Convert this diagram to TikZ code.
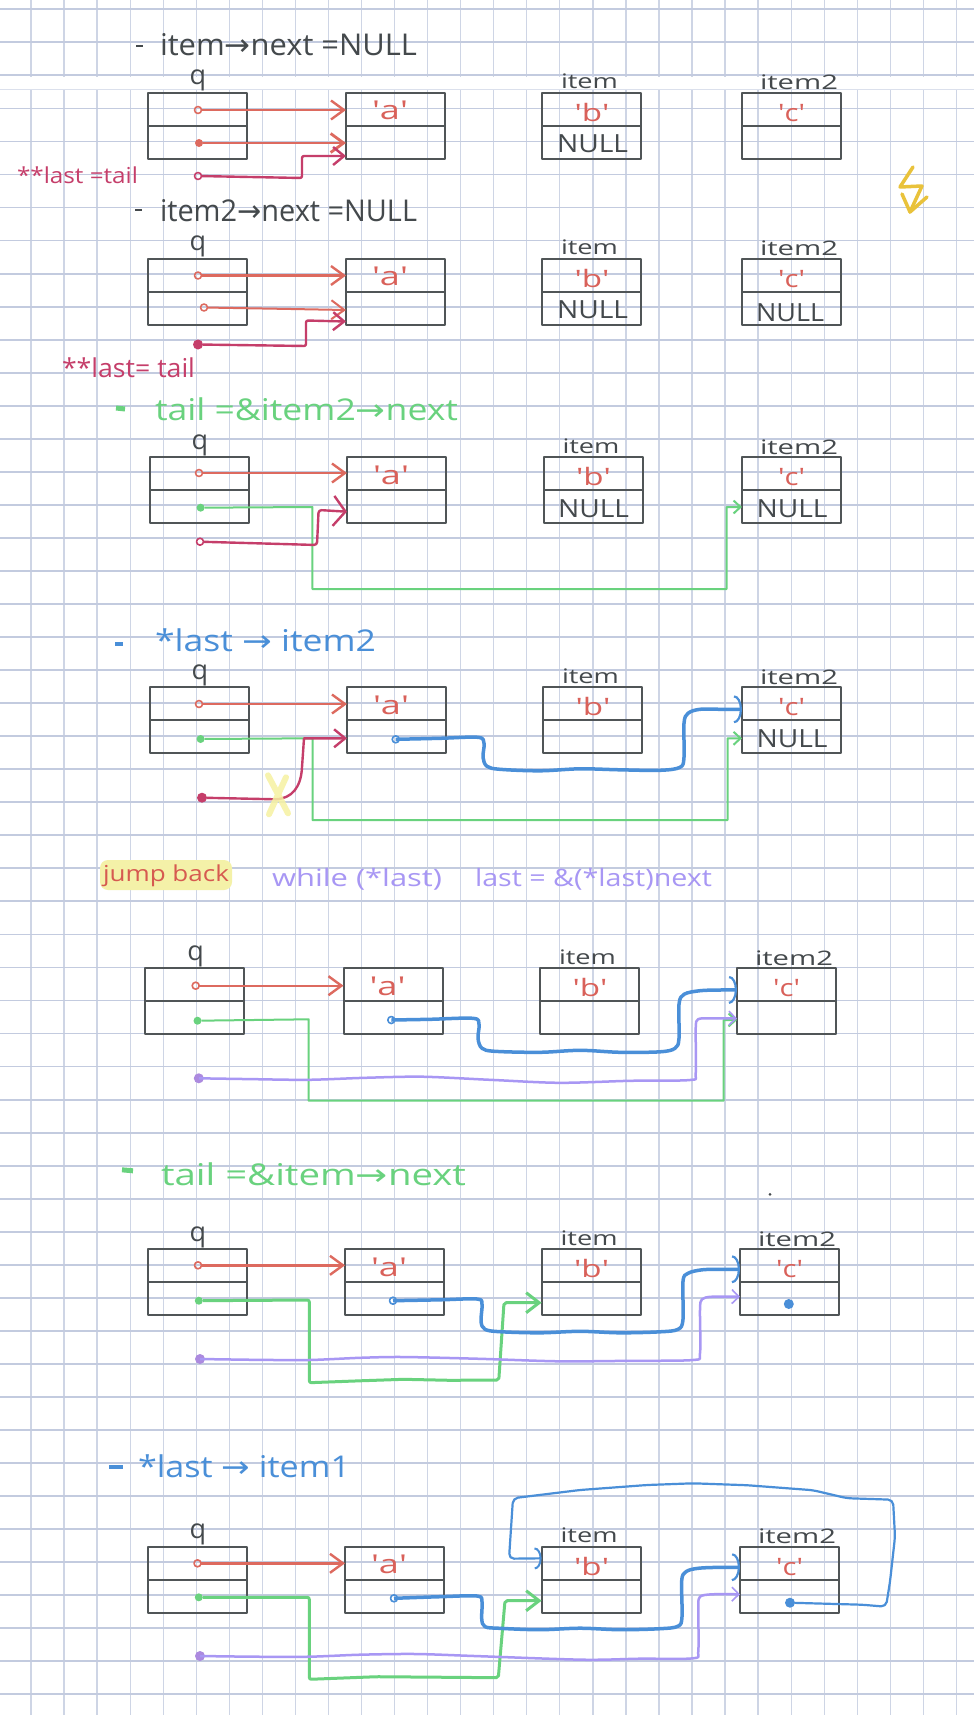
\documentclass[tikz,border=0pt]{standalone}
\usepackage{fontspec}
\usepackage{graphicx}
\setmainfont{Open Sans}
\newfontfamily\djv{DejaVu Sans}
\usetikzlibrary{arrows.meta}
\definecolor{gridh}{HTML}{C3CBDF}
\definecolor{gridv}{HTML}{CED5E5}
\definecolor{boxc}{HTML}{505557}
\definecolor{ink}{HTML}{44494C}
\definecolor{redc}{HTML}{DD6A5F}
\definecolor{redt}{HTML}{D9615A}
\definecolor{crim}{HTML}{C53E6A}
\definecolor{greenc}{HTML}{69D27E}
\definecolor{bluec}{HTML}{4A8FD8}
\definecolor{purp}{HTML}{A897F4}
\definecolor{ylw}{HTML}{E9C23B}
\definecolor{hlc}{HTML}{F4F1A8}
\definecolor{xylw}{HTML}{F6F2A2}
\definecolor{jred}{HTML}{D65A50}
\newcommand\fs[1]{\fontsize{#1}{#1}\selectfont}
\newcommand\hw[2]{\resizebox{#1pt}{\height}{#2}}
\newcommand\sq{\textquotesingle}
\newcommand\drawsec[5]{%
 \node[boxn] (q#1) at (#2+50,33) {};
 \draw[boxl] (q#1.west) -- (q#1.east);
 \node[boxn] (a#1) at (#3+49.5,33) {};
 \draw[boxl] (a#1.west) -- (a#1.east);
 \node[boxn] (i#1) at (#4+49.5,33) {};
 \draw[boxl] (i#1.west) -- (i#1.east);
 \node[boxn] (j#1) at (#5+49.5,33) {};
 \draw[boxl] (j#1.west) -- (j#1.east);
 \node[lbl,font=\fs{27}] (ql#1) at (#2+51,-8) {q};
 \node[lbl,font=\fs{20}] (il#1) at (#4+47.5,-4) {\hw{57}{item}};
 \node[lbl,font=\fs{20}] (jl#1) at (#5+57,-3) {\hw{78}{item2}};
 \node[cred,font=\fs{26}] (at#1) at (#3+44,27) {\hw{36}{\sq a\sq}};
 \node[cred] (bt#1) at (#4+50,28.5) {\hw{35}{\sq b\sq}};
 \node[cred] (ct#1) at (#5+49.5,28.5) {\hw{27}{\sq c\sq}};
}
\begin{document}
\begin{tikzpicture}[x=1pt,y=-1pt,
 every node/.style={inner sep=0,outer sep=0},
 boxn/.style={draw=boxc,line width=2,minimum width=99,minimum height=66,rectangle},
 boxl/.style={draw=boxc,line width=2},
 lbl/.style={anchor=base,text=ink},
 cred/.style={anchor=base,text=redt,font=\fs{24}},
 cnull/.style={anchor=base,text=ink,font=\fs{25}},
 ttl/.style={anchor=base west,font=\fs{30}},
 ctxt/.style={text=crim,anchor=base west},
 dotr/.style={circle,draw,line width=1.6,minimum size=7},
 dotf/.style={circle,minimum size=8},
 redA/.style={draw=redc,line width=2.4,-{Straight Barb[length=13pt,width=19pt]}},
 crimA/.style={draw=crim,line width=2.4,-{Straight Barb[length=11pt,width=18pt]}},
 greenA/.style={draw=greenc,line width=2,-{Straight Barb[length=7pt,width=13pt]}},
 greenB/.style={draw=greenc,line width=3,-{Straight Barb[length=13pt,width=20pt]}},
 blueA/.style={draw=bluec,line width=3.5,-{Arc Barb[length=8pt,width=28pt,line width=2.2pt]}},
 blueL/.style={draw=bluec,line width=2.2,-{Arc Barb[length=7pt,width=22pt,line width=2pt]}},
 purA/.style={draw=purp,line width=2.5,-{Straight Barb[length=7pt,width=14pt,line width=1.6pt]}},
 line join=round]
\useasboundingbox (0,0) rectangle (974,1715);
\fill[white] (0,0) rectangle (974,1715);
\foreach \k in {-1,...,28} \draw[gridv,line width=1.3] ({31+33.05*\k},0) -- ({31+33.05*\k},1715);
\foreach \k in {0,...,51} \draw[gridh,line width=1.8] (0,{9.3+33.04*\k}) -- (974,{9.3+33.04*\k});
\fill[white] (0,76.6) rectangle (974,89.4);
\draw[gridh!60,line width=1] (0,90) -- (974,90);

% ---------- section 1
\begin{scope}[shift={(0,93)}]
\drawsec{1}{147}{346}{542}{742}
\node[cnull] (n1) at (592.5,60) {\hw{71}{NULL}};
\draw[ink,line width=2.2] (136,-47) -- (143,-47);
\node[ttl,text=ink] (h1) at (160,-37) {\hw{257}{item{\djv →}next =NULL}};
\node[dotr,draw=redc] (d1a) at (198,17) {};
\draw[redA] (d1a) -- (a1.west |- d1a);
\node[dotf,fill=redc] (d1b) at (199,50) {};
\draw[redA,line width=2.8] (d1b) -- (a1.west |- d1b);
\node[dotr,draw=crim] (d1c) at (198,83) {};
\draw[crimA,rounded corners=2] (d1c) -- (302,85) -- (302,63) -- (a1.west |- 0,63);
\node[ctxt,font=\fs{22}] (L1) at (17,91) {\hw{121}{**last =tail}};
\end{scope}

% ---------- section 2
\begin{scope}[shift={(0,258.5)}]
\drawsec{2}{147}{346}{542}{742}
\node[cnull] (n2) at (592.5,60) {\hw{71}{NULL}};
\node[cnull] (m2) at (790,63) {\hw{68}{NULL}};
\draw[ink,line width=2.2] (135,-48.5) -- (142,-48.5);
\node[ttl,text=ink] (h2) at (160,-36.5) {\hw{257}{item2{\djv →}next =NULL}};
\node[dotr,draw=redc] (d2a) at (198,17) {};
\draw[redA] (d2a) -- (a2.west |- d2a);
\node[dotr,draw=redc] (d2b) at (204,49) {};
\draw[redA,line width=2] (d2b) -- (280,50.3) -- (a2.west |- 0,51.5);
\node[dotf,fill=crim,minimum size=10] (d2c) at (198,86) {};
\draw[crimA,rounded corners=2] (d2c) -- (306,87.5) -- (306,62) -- (a2.west |- 0,63);
\node[ctxt,font=\fs{26}] (L2) at (62,118.5) {\hw{133}{**last= tail}};
\end{scope}

% ---------- section 3
\begin{scope}[shift={(0,457)}]
\drawsec{3}{149}{347}{543.5}{742}
\node[cnull] (n3) at (593.5,60) {\hw{71}{NULL}};
\node[cnull] (m3) at (792,60) {\hw{71}{NULL}};
\draw[greenc,line width=5] (116,-49) -- (125,-48);
\node[ttl,text=greenc] (h3) at (155,-37) {\hw{303}{tail =\&item2{\djv →}next}};
\node[dotr,draw=redc] (d3a) at (199,16) {};
\draw[redA] (d3a) -- (a3.west |- d3a);
\node[dotf,fill=greenc] (d3b) at (200.6,50.7) {};
\draw[greenA] (d3b) -- (312.4,50) -- (312.4,132) -- (726.7,132) -- (726.7,50) -- (j3.west |- 0,50);
\node[dotr,draw=crim] (d3c) at (200,84.7) {};
\draw[crimA,-{Straight Barb[length=12pt,width=30pt]},rounded corners=3] (d3c) -- (317,88) -- (318.6,53) -- (a3.west |- 0,54.7);
\end{scope}

% ---------- section 4
\begin{scope}[shift={(0,687.3)}]
\drawsec{4}{149}{347}{543}{742}
\node[cnull] (m4) at (792,60) {\hw{71}{NULL}};
\draw[bluec,line width=4] (115,-43) -- (123,-43);
\node[ttl,text=bluec] (h4) at (155,-36) {\hw{221}{*last {\djv →} item2}};
\node[dotr,draw=redc] (d4a) at (199,16.7) {};
\draw[redA] (d4a) -- (a4.west |- d4a);
\node[dotf,fill=greenc] (d4b) at (200.6,51.7) {};
\draw[greenA] (d4b) -- (312.5,51) -- (312.5,132.7) -- (727.5,132.7) -- (727.5,51) -- (j4.west |- 0,51);
\node[dotf,fill=crim,minimum size=10] (d4c) at (202,110.4) {};
\draw[crimA] (d4c) -- (276,112) .. controls (292,111) and (301,100) .. (302,80) -- (304,51) -- (a4.west |- 0,51);
\draw[xylw,line width=6,line cap=round,opacity=.85] (268,88) -- (288,126) (286,90) -- (269,127);
\node[dotr,draw=bluec] (d4d) at (395.7,52) {};
\draw[blueA] plot[smooth,tension=.55] coordinates {(d4d.center) (440,51) (478,50) (484,56) (483,70) (487,79) (500,82) (540,83.5) (580,81.5) (620,82.5) (660,83) (680,80) (684,70) (684,36) (688,26) (700,22) (722,22) (j4.west |- 0,22)};
\end{scope}

% ---------- jump back
\fill[hlc,rounded corners=8] (100,860) rectangle (232,890);
\node[anchor=base west,text=jred,font=\fs{22}] (jb) at (103,881) {\hw{126}{jump back}};
\node[anchor=base west,text=purp,font=\fs{24}] (w1) at (272,886) {\hw{170}{while (*last)}};
\node[anchor=base west,text=purp,font=\fs{24}] (w2) at (475,886) {\hw{237}{last = \&(*last)next}};

% ---------- section 5
\begin{scope}[shift={(0,968.3)}]
\drawsec{5}{144.7}{343.5}{540}{737}
\node[dotr,draw=redc] (d5a) at (195.7,17.4) {};
\draw[redA] (d5a) -- (a5.west |- d5a);
\node[dotf,fill=greenc] (d5b) at (197.5,52.4) {};
\draw[greenA] (d5b) -- (308.7,51) -- (308.7,132.4) -- (723.6,132.4) -- (723.6,51.7) -- (j5.west |- 0,51.7);
\node[dotr,draw=bluec] (d5c) at (391.3,51.7) {};
\draw[blueA] plot[smooth,tension=.55] coordinates {(d5c.center) (430,51) (473,50) (479,56) (478,70) (482,80) (495,83) (540,84) (580,82) (620,84) (660,83.5) (675,80) (679,70) (679,36) (684,26) (700,22.4) (720,21.7) (j5.west |- 0,21.7)};
\node[dotf,fill=purp!85!crim,minimum size=10] (d5d) at (198.8,110) {};
\draw[purA] plot[smooth,tension=.5] coordinates {(d5d.center) (250,110.8) (308,111.5) (365,109.5) (422,108.4) (490,111.5) (559,114.5) (630,112.5) (690,111.7) (695.7,105) (695.7,60) (698,51) (710,50) (j5.west |- 0,50)};
\end{scope}

% ---------- section 6
\begin{scope}[shift={(0,1249.3)}]
\drawsec{6}{147}{345}{541.6}{740}
\draw[greenc,line width=5] (122,-79.5) -- (133,-78.5);
\node[ttl,text=greenc] (h6) at (161,-64) {\hw{305}{tail =\&item{\djv →}next}};
\fill[ink] (770,-55) circle (1.5);
\node[dotr,draw=redc] (d6a) at (198,16) {};
\draw[redA] (d6a) -- (a6.west |- d6a);
\node[dotf,fill=greenc] (d6b) at (198.8,51.4) {};
\draw[greenB,rounded corners=2] (d6b) -- (309.3,50.7) -- (309.3,133.4) -- (360,131.5) -- (403.7,130) -- (450,131) -- (498.8,130.7) -- (504,53.4) -- (i6.west |- 0,53.4);
\node[dotr,draw=bluec] (d6c) at (393,51.4) {};
\draw[blueA] plot[smooth,tension=.55] coordinates {(d6c.center) (440,50.5) (477,49.7) (482,55) (481,72) (485,80) (500,82.4) (540,83.5) (580,82) (620,83.5) (660,82.5) (678,80) (683,70) (683,32) (688,24) (702,20.5) (722,20) (j6.west |- 0,20)};
\node[dotf,fill=purp!85!crim,minimum size=10] (d6d) at (200,109.7) {};
\draw[purA] plot[smooth,tension=.5] coordinates {(d6d.center) (255,110.5) (309,110.7) (360,108.5) (403,107.7) (480,109.5) (559,112) (630,111.5) (693,110.7) (700,104) (700,60) (702,50) (712,47.4) (j6.west |- 0,47.4)};
\node[dotf,fill=bluec,minimum size=10] (e6) at (788.8,54.7) {};
\end{scope}

% ---------- section 7
\begin{scope}[shift={(0,1546.7)}]
\drawsec{7}{147}{345}{541.6}{740}
\draw[bluec,line width=4] (109,-80) -- (123,-80);
\node[ttl,text=bluec] (h7) at (138,-69.7) {\hw{212}{*last {\djv →} item1}};
\node[dotr,draw=redc] (d7a) at (197.5,16.6) {};
\draw[redA] (d7a) -- (a7.west |- d7a);
\node[dotf,fill=greenc] (d7b) at (198.8,50.6) {};
\draw[greenB,rounded corners=2] (d7b) -- (309.3,50.6) -- (309.3,132.6) -- (376.7,130) -- (450,130.6) -- (498.3,131) -- (505,54) -- (i7.west |- 0,54);
\node[dotr,draw=bluec] (d7c) at (394,51.6) {};
\draw[blueA] plot[smooth,tension=.55] coordinates {(d7c.center) (440,50) (477,49.3) (482,55) (481.7,72) (485,80) (500,81.6) (540,83) (580,81.5) (620,83) (660,82) (678,79.5) (682,70) (681.7,34) (686,25) (698,21.6) (720,20.6) (j7.west |- 0,20.6)};
\node[dotf,fill=purp!85!crim,minimum size=10] (d7d) at (200,109.3) {};
\draw[purA] plot[smooth,tension=.5] coordinates {(d7d.center) (255,110) (309,110) (360,108) (416,107.3) (480,109.5) (583,113) (640,112) (693,111.6) (698.3,104) (698.3,60) (700,50) (712,47.6) (j7.west |- 0,47.6)};
\node[dotf,fill=bluec,minimum size=10] (e7) at (790,56) {};
\draw[blueL,rounded corners=5] (e7) -- (862,58) -- (886,60) -- (890,35) -- (895,-10) -- (893,-47) -- (847,-48.5) -- (813,-56.5) -- (747,-61.5) -- (693,-63.4) -- (647,-61.7) -- (580,-56.7) -- (513,-48.5) -- (509,12) -- (i7.west |- 0,11.6);
\end{scope}

% ---------- lightning
\draw[ylw,line width=3.5,line cap=round] (913,167) -- (900,187) -- (922,186) -- (910,212);
\draw[ylw,line width=3.5,line cap=round] (902,194) -- (910,212) -- (927,197);
\end{tikzpicture}
\end{document}
